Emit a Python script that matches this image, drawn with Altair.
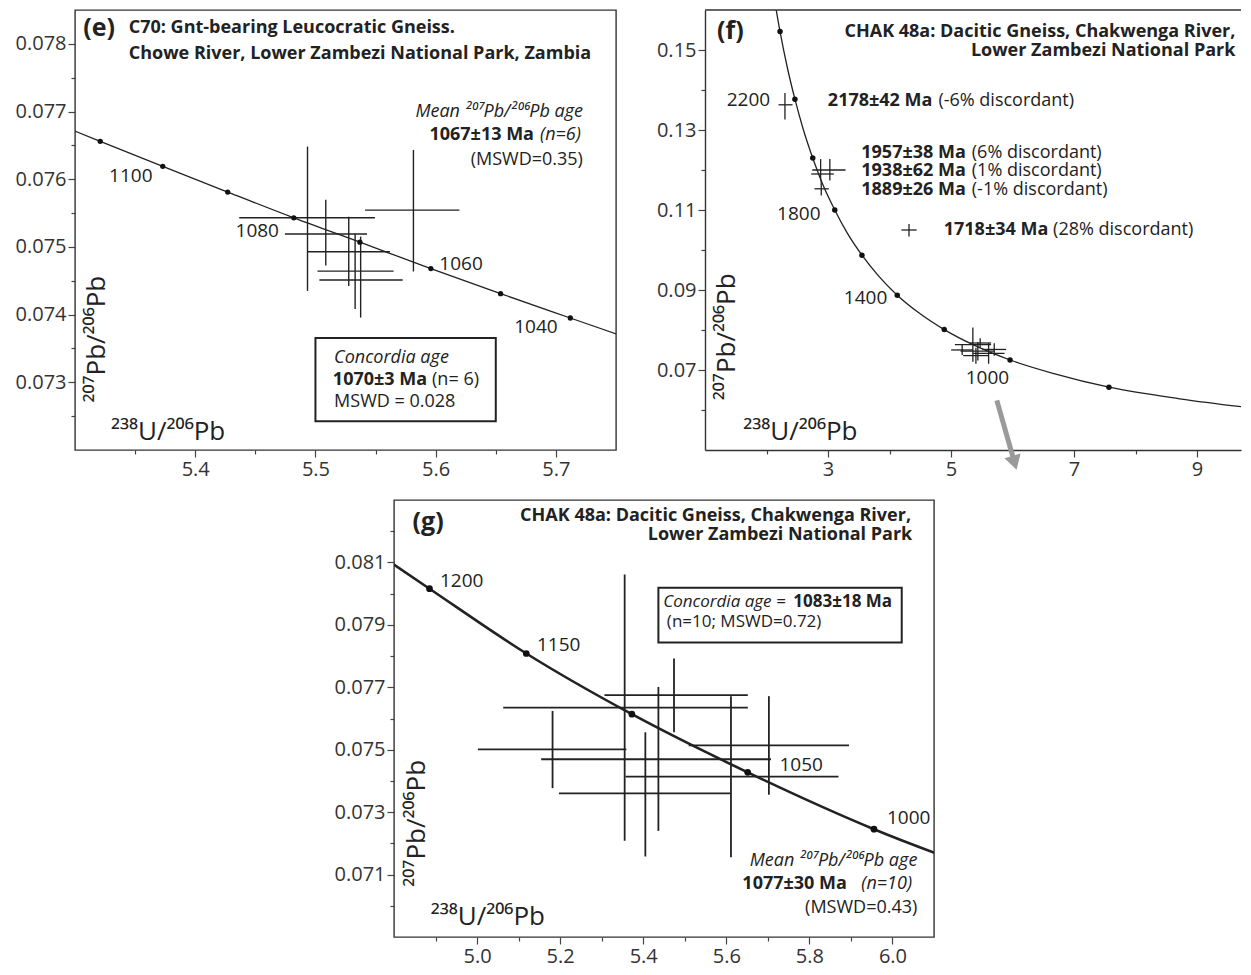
import altair as alt
import pandas as pd

FONT = "Open Sans"
INK = "#222222"

# ---------------- panel (e) data ----------------
e_conc_age = [1110, 1100, 1090, 1080, 1070, 1060, 1050, 1040]
e_conc_x = [5.321, 5.373, 5.427, 5.482, 5.537, 5.596, 5.654, 5.712]
e_conc_y = [0.07656, 0.07619, 0.07581, 0.07543, 0.07507, 0.07468, 0.07431, 0.07395]
e_line_x = [5.296, 5.321, 5.373, 5.427, 5.482, 5.537, 5.596, 5.654, 5.712, 5.772]
e_line_y = [0.07674, 0.07656, 0.07619, 0.07581, 0.07543, 0.07507, 0.07468, 0.07431, 0.07395, 0.07358]
e_x = [5.5815, 5.4934, 5.5086, 5.5277, 5.5330, 5.5376]
e_xlo = [5.5413, 5.4366, 5.4746, 5.4934, 5.5017, 5.5033]
e_xhi = [5.6198, 5.5495, 5.5429, 5.5620, 5.5650, 5.5726]
e_y = [0.075543, 0.075431, 0.075192, 0.074929, 0.074642, 0.074511]
e_ylo = [0.074637, 0.074350, 0.074725, 0.074423, 0.074083, 0.073956]
e_yhi = [0.076433, 0.076482, 0.075698, 0.075445, 0.075192, 0.075153]
e_xticks = [5.35, 5.4, 5.45, 5.5, 5.55, 5.6, 5.65, 5.7]
e_yticks = [0.0725, 0.073, 0.0735, 0.074, 0.0745, 0.075, 0.0755, 0.076, 0.0765, 0.077, 0.0775, 0.078]

# ---------------- panel (f) data ----------------
f_conc_age = [2400, 2200, 2000, 1800, 1600, 1400, 1200, 1000, 800]
f_conc_x = [2.220, 2.462, 2.752, 3.110, 3.552, 4.126, 4.890, 5.960, 7.568]
f_conc_y = [0.1546, 0.1377, 0.1230, 0.1100, 0.0987, 0.0887, 0.0801, 0.0725, 0.0657]
f_line_x = [2.111, 2.220, 2.333, 2.462, 2.597, 2.752, 2.917, 3.110, 3.314, 3.552,
            3.817, 4.126, 4.476, 4.890, 5.375, 5.960, 6.674, 7.568, 8.718, 10.25]
f_line_y = [0.1643, 0.1546, 0.1460, 0.1377, 0.1302, 0.1230, 0.1163, 0.1100, 0.1042, 0.0987,
            0.0936, 0.0887, 0.0843, 0.0801, 0.0762, 0.0725, 0.0691, 0.0657, 0.0628, 0.0599]
f_x = [2.300, 3.030, 2.880, 2.890, 4.317]
f_xlo = [2.195, 2.743, 2.727, 2.780, 4.193]
f_xhi = [2.423, 3.285, 3.094, 3.013, 4.441]
f_y = [0.1363, 0.1200, 0.1190, 0.1153, 0.1050]
f_ylo = [0.13265, 0.11737, 0.11737, 0.11363, 0.10339]
f_yhi = [0.13924, 0.12273, 0.12273, 0.11753, 0.10653]
f_xticks = [2, 3, 4, 5, 6, 7, 8, 9]
f_yticks = [0.06, 0.07, 0.08, 0.09, 0.10, 0.11, 0.12, 0.13, 0.14, 0.15]

# ---------------- panel (g) data ----------------
g_conc_age = [1200, 1150, 1100, 1050, 1000]
g_conc_x = [4.8855, 5.1185, 5.3727, 5.6515, 5.9555]
g_conc_y = [0.080158, 0.078083, 0.076138, 0.074275, 0.072453]
g_line_x = [4.799, 4.8855, 5.1185, 5.3727, 5.6515, 5.9555, 6.298]
g_line_y = [0.08094, 0.080158, 0.078083, 0.076138, 0.074275, 0.072453, 0.07075]
g_x = [5.4741, 5.3553, 5.1817, 5.7025, 5.4365, 5.6112, 5.4051]
g_xlo = [5.3066, 5.0629, 5.0020, 5.5096, 5.1543, 5.3574, 5.1970]
g_xhi = [5.6518, 5.6518, 5.3594, 5.8954, 5.7076, 5.8701, 5.6112]
g_y = [0.076747, 0.076347, 0.075011, 0.075137, 0.074695, 0.074137, 0.073600]
g_ylo = [0.075558, 0.072084, 0.073768, 0.073558, 0.072400, 0.071558, 0.071579]
g_yhi = [0.077926, 0.080611, 0.076242, 0.076716, 0.077011, 0.076716, 0.075558]
g_xticks = [4.9, 5.0, 5.1, 5.2, 5.3, 5.4, 5.5, 5.6, 5.7, 5.8, 5.9, 6.0]
g_yticks = [0.070, 0.071, 0.072, 0.073, 0.074, 0.075, 0.076, 0.077, 0.078, 0.079, 0.080, 0.081, 0.082]

SUP_PB = "\u00b2\u2070\u2077Pb/\u00b2\u2070\u2076Pb"
SUP_U = "\u00b2\u00b3\u2078U/\u00b2\u2070\u2076Pb"
MEAN = "Mean \u00b2\u2070\u2077Pb/\u00b2\u2070\u2076Pb age"

TS = 18    # title size
AS = 19    # age label size
NS = 18    # note size

# annotations: text, x, y, align, baseline, size, weight, style, angle
e_annots = [
    ("(e)", 5.3069, 0.07811, "left", "alphabetic", 25, "bold", "normal", 0),
    ("C70: Gnt-bearing Leucocratic Gneiss.", 5.3447, 0.07816, "left", "alphabetic", TS, "bold", "normal", 0),
    ("Chowe River, Lower Zambezi National Park, Zambia", 5.3447, 0.07778, "left", "alphabetic", TS, "bold", "normal", 0),
    (MEAN, 5.7225, 0.07692, "right", "alphabetic", NS, "normal", "italic", 0),
    ("1067\u00b113 Ma", 5.6818, 0.076576, "right", "alphabetic", NS, "bold", "normal", 0),
    ("(n=6)", 5.6868, 0.076576, "left", "alphabetic", NS, "normal", "italic", 0),
    ("(MSWD=0.35)", 5.7225, 0.076211, "right", "alphabetic", NS, "normal", "normal", 0),
    ("Concordia age", 5.5155, 0.07329, "left", "alphabetic", NS, "normal", "italic", 0),
    ("1070\u00b13 Ma", 5.5929, 0.072964, "right", "alphabetic", NS, "bold", "normal", 0),
    ("(n= 6)", 5.5970, 0.072964, "left", "alphabetic", NS, "normal", "normal", 0),
    ("MSWD = 0.028", 5.5155, 0.072632, "left", "alphabetic", NS, "normal", "normal", 0),
    ("1100", 5.3464, 0.076046, "center", "middle", AS, "normal", "normal", 0),
    ("1080", 5.4516, 0.075238, "center", "middle", AS, "normal", "normal", 0),
    ("1060", 5.6211, 0.074750, "center", "middle", AS, "normal", "normal", 0),
    ("1040", 5.6834, 0.073811, "center", "middle", AS, "normal", "normal", 0),
    (SUP_PB, 5.3185, 0.07270, "left", "middle", 26, "normal", "normal", 270),
    (SUP_U, 5.3299, 0.072146, "left", "alphabetic", 26, "normal", "normal", 0),
]
e_box = [5.50, 5.65, 0.073655, 0.072423]

f_annots = [
    ("(f)", 1.197, 0.15287, "left", "alphabetic", 25, "bold", "normal", 0),
    ("CHAK 48a: Dacitic Gneiss, Chakwenga River,", 9.624, 0.15330, "right", "alphabetic", TS, "bold", "normal", 0),
    ("Lower Zambezi National Park", 9.624, 0.14859, "right", "alphabetic", TS, "bold", "normal", 0),
    ("2200", 2.060, 0.13761, "right", "middle", AS, "normal", "normal", 0),
    ("2178\u00b142 Ma", 4.698, 0.13595, "right", "alphabetic", NS, "bold", "normal", 0),
    ("(-6% discordant)", 4.795, 0.13595, "left", "alphabetic", NS, "normal", "normal", 0),
    ("1957\u00b138 Ma", 5.241, 0.12299, "right", "alphabetic", NS, "bold", "normal", 0),
    ("(6% discordant)", 5.338, 0.12299, "left", "alphabetic", NS, "normal", "normal", 0),
    ("1938\u00b162 Ma", 5.241, 0.11843, "right", "alphabetic", NS, "bold", "normal", 0),
    ("(1% discordant)", 5.338, 0.11843, "left", "alphabetic", NS, "normal", "normal", 0),
    ("1889\u00b126 Ma", 5.241, 0.11365, "right", "alphabetic", NS, "bold", "normal", 0),
    ("(-1% discordant)", 5.338, 0.11365, "left", "alphabetic", NS, "normal", "normal", 0),
    ("1800", 2.878, 0.10912, "right", "middle", AS, "normal", "normal", 0),
    ("1718\u00b134 Ma", 6.582, 0.10374, "right", "alphabetic", NS, "bold", "normal", 0),
    ("(28% discordant)", 6.660, 0.10374, "left", "alphabetic", NS, "normal", "normal", 0),
    ("1400", 3.964, 0.08806, "right", "middle", AS, "normal", "normal", 0),
    ("1000", 5.593, 0.06806, "center", "middle", AS, "normal", "normal", 0),
    (SUP_PB, 1.359, 0.06244, "left", "middle", 26, "normal", "normal", 270),
    (SUP_U, 1.621, 0.05253, "left", "alphabetic", 26, "normal", "normal", 0),
]

g_annots = [
    ("(g)", 4.8447, 0.08205, "left", "alphabetic", 25, "bold", "normal", 0),
    ("CHAK 48a: Dacitic Gneiss, Chakwenga River,", 6.0447, 0.082316, "right", "alphabetic", TS, "bold", "normal", 0),
    ("Lower Zambezi National Park", 6.0477, 0.081705, "right", "alphabetic", TS, "bold", "normal", 0),
    ("1200", 4.9107, 0.08040, "left", "middle", AS, "normal", "normal", 0),
    ("1150", 5.1442, 0.078368, "left", "middle", AS, "normal", "normal", 0),
    ("1050", 5.7279, 0.074505, "left", "middle", AS, "normal", "normal", 0),
    ("1000", 5.9868, 0.072821, "left", "middle", AS, "normal", "normal", 0),
    ("Concordia age =", 5.743, 0.079558, "right", "alphabetic", 17, "normal", "italic", 0),
    ("1083\u00b118 Ma", 5.7614, 0.079558, "left", "alphabetic", 17, "bold", "normal", 0),
    ("(n=10; MSWD=0.72)", 5.4569, 0.078926, "left", "alphabetic", 17, "normal", "normal", 0),
    (MEAN, 6.0599, 0.071263, "right", "alphabetic", NS, "normal", "italic", 0),
    ("1077\u00b130 Ma", 5.8904, 0.070526, "right", "alphabetic", NS, "bold", "normal", 0),
    ("(n=10)", 5.9250, 0.070526, "left", "alphabetic", NS, "normal", "italic", 0),
    ("(MSWD=0.43)", 6.0599, 0.069768, "right", "alphabetic", NS, "normal", "normal", 0),
    (SUP_PB, 4.8548, 0.070611, "left", "middle", 26, "normal", "normal", 270),
    (SUP_U, 4.8883, 0.06940, "left", "alphabetic", 26, "normal", "normal", 0),
]
g_box = [5.4365, 6.0223, 0.08019, 0.078432]


def axis(values, test, fmt, domain):
    return alt.Axis(
        values=values,
        labelExpr=f"({test}) ? format(datum.value, '{fmt}') : ''",
        tickSize={"condition": {"test": test, "value": 7}, "value": 4},
        grid=False,
        domain=domain,
        title=None,
        labelAngle=0,
    )


def make_panel(xdom, ydom, w, h, xax, yax, line, dots, crosses, annots, box,
               line_w, dot_size, rule_w, framed=True, extra=None):
    def X(f):
        return alt.X(f"{f}:Q", scale=alt.Scale(domain=xdom, nice=False, zero=False), axis=xax, title=None)

    def Y(f):
        return alt.Y(f"{f}:Q", scale=alt.Scale(domain=ydom, nice=False, zero=False), axis=yax, title=None)

    layers = []
    layers.append(alt.Chart(line).mark_line(clip=True, color=INK, strokeWidth=line_w,
                                            interpolate="monotone").encode(x=X("x"), y=Y("y")))
    layers.append(alt.Chart(crosses).mark_rule(color=INK, strokeWidth=rule_w).encode(
        x=X("xlo"), x2="xhi:Q", y=Y("y")))
    layers.append(alt.Chart(crosses).mark_rule(color=INK, strokeWidth=rule_w).encode(
        x=X("x"), y=Y("ylo"), y2="yhi:Q"))
    layers.append(alt.Chart(dots).mark_circle(color="#111111", opacity=1, size=dot_size).encode(
        x=X("x"), y=Y("y")))
    if box is not None:
        bdf = pd.DataFrame({"x1": [box[0]], "x2": [box[1]], "y1": [box[2]], "y2": [box[3]]})
        layers.append(alt.Chart(bdf).mark_rect(fill="white", stroke=INK, strokeWidth=2).encode(
            x=X("x1"), x2="x2:Q", y=Y("y1"), y2="y2:Q"))
    if extra:
        for ex in extra:
            layers.append(ex(X, Y))
    for (t, x, y, al, bl, sz, wt, st, ang) in annots:
        df = pd.DataFrame({"x": [x], "y": [y], "t": [t]})
        layers.append(alt.Chart(df).mark_text(
            align=al, baseline=bl, fontSize=sz, fontWeight=wt, fontStyle=st, angle=ang,
            font=FONT, color=INK).encode(x=X("x"), y=Y("y"), text="t:N"))
    if framed:
        view = alt.ViewBackground(stroke="#333333", strokeWidth=1.4, fill="white")
    else:
        layers.append(alt.Chart(pd.DataFrame({"a": [0]})).mark_rule(color="#333333", strokeWidth=1.4).encode(
            x=alt.value(0), x2=alt.value(w), y=alt.value(0)))
        view = alt.ViewBackground(stroke="transparent", fill="white")
    return alt.layer(*layers).properties(width=w, height=h, view=view)


def cross_df(x, xlo, xhi, y, ylo, yhi):
    return pd.DataFrame({"x": x, "xlo": xlo, "xhi": xhi, "y": y, "ylo": ylo, "yhi": yhi})


e_panel = make_panel(
    [5.30, 5.75], [0.072, 0.0785], 541, 440,
    axis(e_xticks, "abs(datum.value*10 - round(datum.value*10)) < 0.001", ".1f", False),
    axis(e_yticks, "abs(datum.value*1000 - round(datum.value*1000)) < 0.01", ".3f", False),
    pd.DataFrame({"x": e_line_x, "y": e_line_y}),
    pd.DataFrame({"x": e_conc_x, "y": e_conc_y, "age": e_conc_age}),
    cross_df(e_x, e_xlo, e_xhi, e_y, e_ylo, e_yhi),
    e_annots, e_box, 1.3, 28, 1.4)


def arrow(X, Y):
    sh = pd.DataFrame({"x": [5.745], "x2": [6.033], "y": [0.0624], "y2": [0.0468]})
    hd = pd.DataFrame({"x": [6.033], "y": [0.0468]})
    return alt.layer(
        alt.Chart(sh).mark_rule(color="#9a9a9a", strokeWidth=5).encode(x=X("x"), x2="x2:Q", y=Y("y"), y2="y2:Q"),
        alt.Chart(hd).mark_point(shape="triangle-down", filled=True, color="#9a9a9a", opacity=1,
                                 size=280, angle=344).encode(x=X("x"), y=Y("y")),
    )


f_panel = make_panel(
    [1, 9.715], [0.05, 0.16], 536, 440,
    axis(f_xticks, "round(datum.value) % 2 == 1", "d", True),
    axis(f_yticks, "round(datum.value*100) % 2 == 1", ".2f", True),
    pd.DataFrame({"x": f_line_x, "y": f_line_y}),
    pd.DataFrame({"x": f_conc_x, "y": f_conc_y, "age": f_conc_age}),
    pd.concat([cross_df(f_x, f_xlo, f_xhi, f_y, f_ylo, f_yhi),
               cross_df(g_x, g_xlo, g_xhi, g_y, g_ylo, g_yhi)], ignore_index=True),
    f_annots, None, 1.3, 30, 1.3, framed=False, extra=[arrow])

g_panel = make_panel(
    [4.8, 6.1], [0.069, 0.083], 540, 437,
    axis(g_xticks, "round(datum.value*10) % 2 == 0", ".1f", False),
    axis(g_yticks, "round(datum.value*1000) % 2 == 1", ".3f", False),
    pd.DataFrame({"x": g_line_x, "y": g_line_y}),
    pd.DataFrame({"x": g_conc_x, "y": g_conc_y, "age": g_conc_age}),
    cross_df(g_x, g_xlo, g_xhi, g_y, g_ylo, g_yhi),
    g_annots, g_box, 2.6, 45, 1.8)

spacer = alt.Chart(pd.DataFrame({"a": [0]})).mark_point(opacity=0).encode(
    x=alt.value(0), y=alt.value(0)).properties(
    width=319, height=437, view=alt.ViewBackground(stroke="transparent"))

row1 = alt.hconcat(e_panel, f_panel, spacing=89, bounds="flush")
row2 = alt.hconcat(spacer, g_panel, spacing=0, bounds="flush")

chart = alt.vconcat(row1, row2, spacing=16).properties(
    padding={"left": 6, "top": 0, "right": 0, "bottom": 0},
    background="white",
).configure_axis(
    labelFont=FONT, labelFontSize=20, labelColor="#333333",
    tickColor="#444444", tickWidth=1.2, domainColor="#333333", domainWidth=1.4,
    labelPadding=2,
).configure_view(strokeWidth=1.4)

chart.save("out.html", embed_options={"renderer": "svg", "actions": False})
